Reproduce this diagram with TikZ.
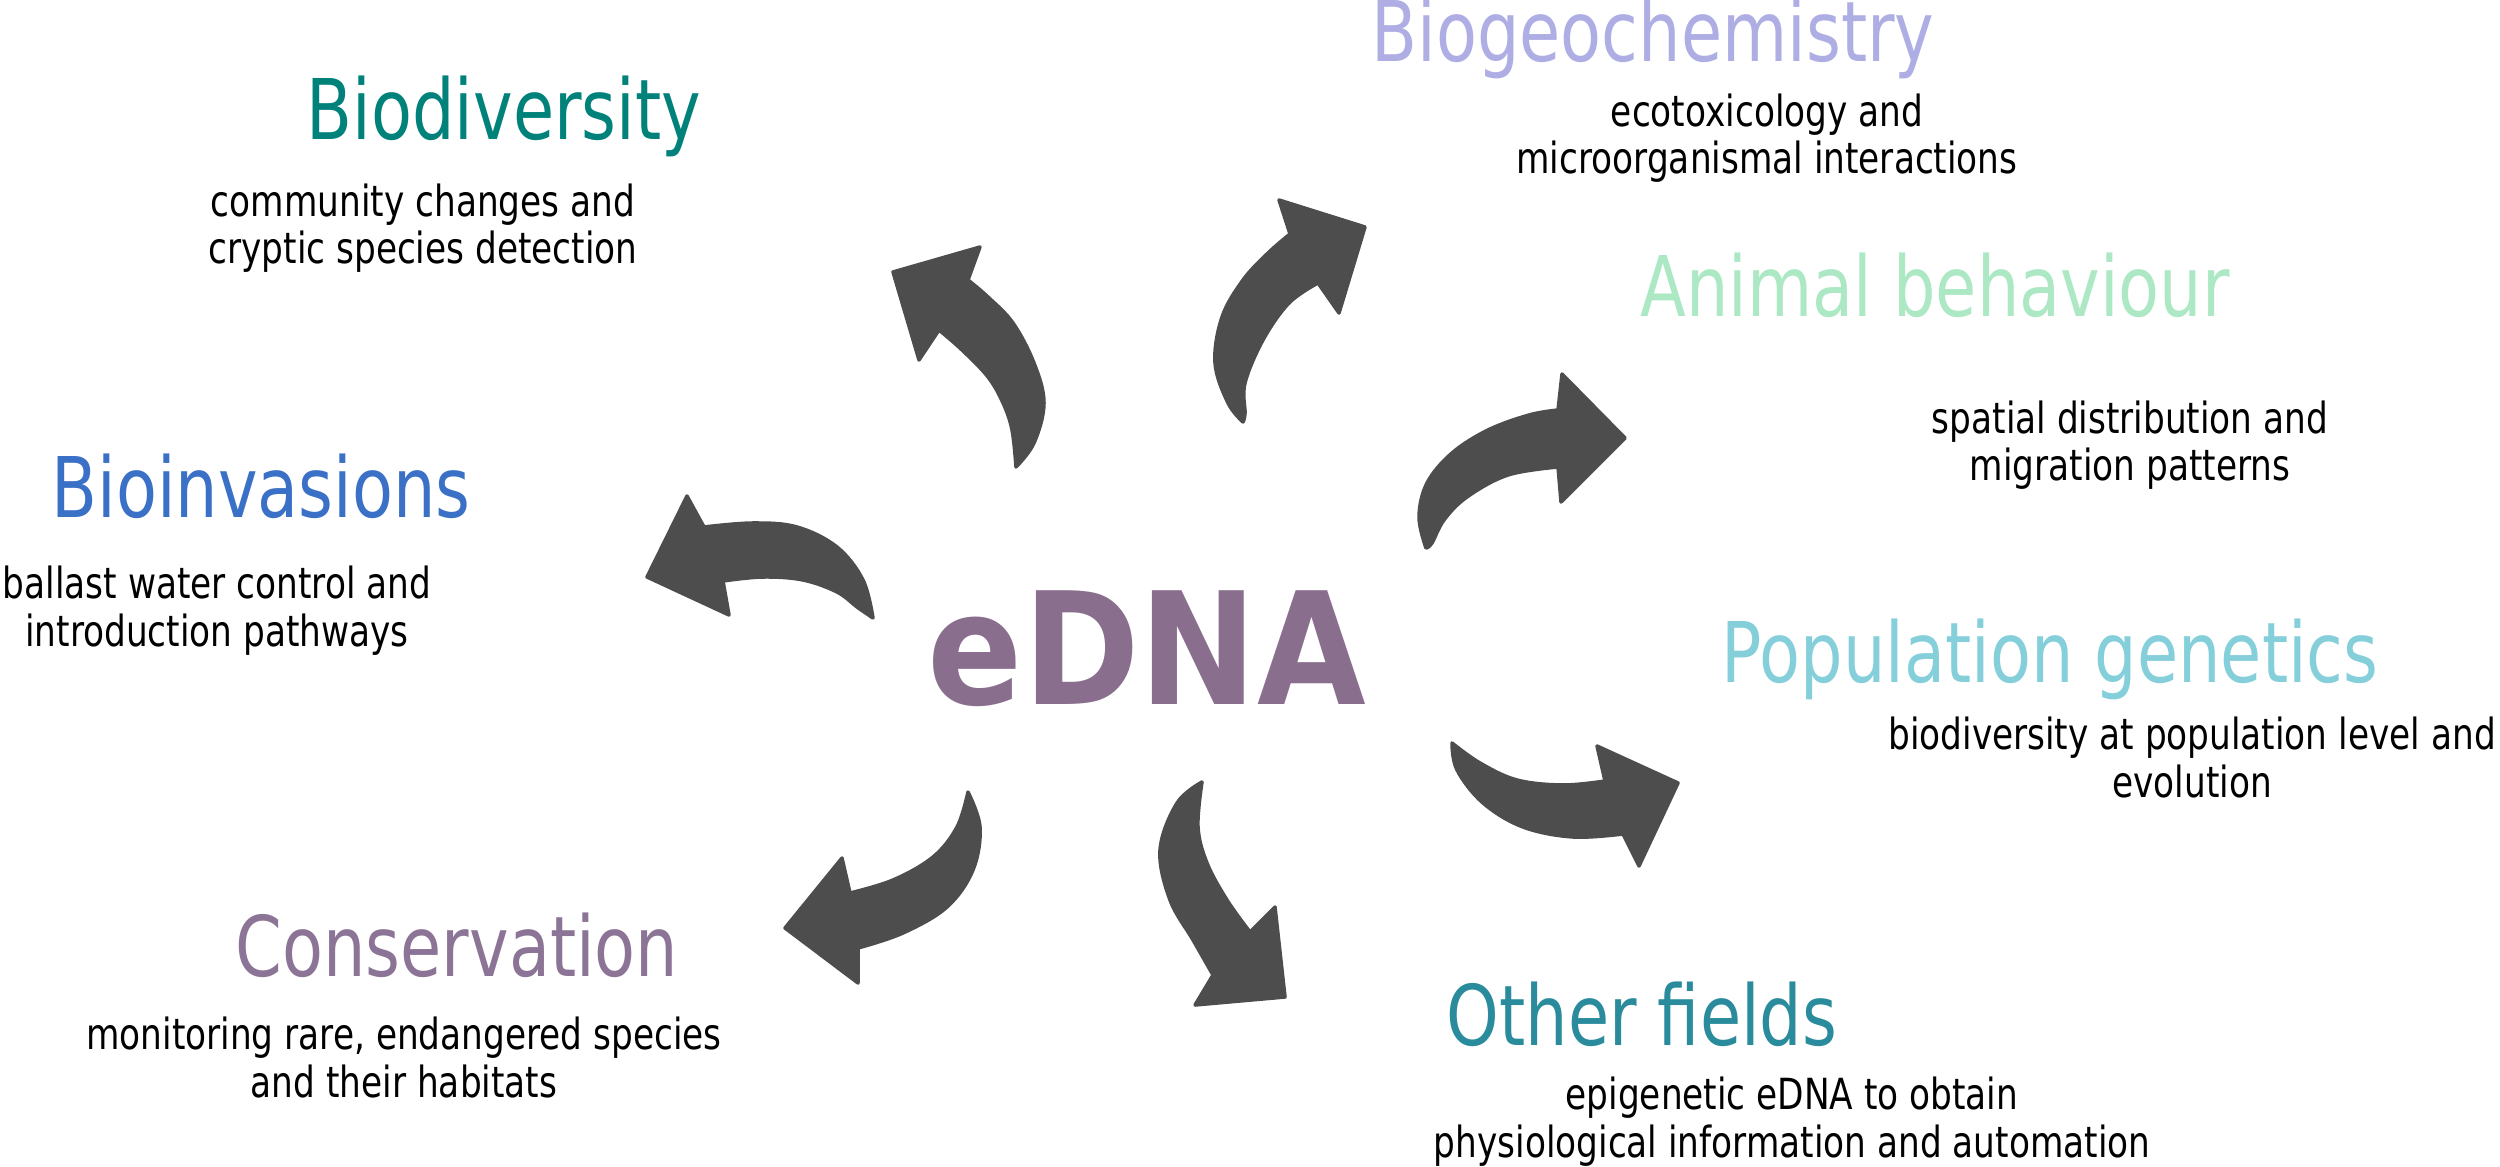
\documentclass[tikz,border=0pt]{standalone}
\usepackage{fontspec}
\setmainfont[FakeStretch=0.8]{DejaVu Sans}
\newfontfamily\ednafont[FakeStretch=0.9]{DejaVu Sans}

\definecolor{biodiv}{HTML}{00827A}
\definecolor{bioinv}{HTML}{3A70C6}
\definecolor{biogeo}{HTML}{AEAEE4}
\definecolor{animal}{HTML}{ABE8C3}
\definecolor{popgen}{HTML}{85CFDB}
\definecolor{other}{HTML}{2A8B9C}
\definecolor{conserv}{HTML}{8C7496}
\definecolor{edna}{HTML}{8A6E8E}
\definecolor{arrowgray}{HTML}{4D4D4D}

\begin{document}
\begin{tikzpicture}[x=0.01cm, y=-0.01cm,
   title/.style={font=\fontsize{23.8}{28}\selectfont, anchor=base, inner sep=0pt},
   sub/.style={font=\fontsize{12.2}{13.5}\selectfont, align=center, anchor=base, inner sep=0pt},
   curvy/.style={fill=arrowgray, draw=arrowgray, line width=1pt, line join=round}]
   \useasboundingbox (0,0) rectangle (2500,1167);

   \node[font=\ednafont\bfseries\fontsize{44.4}{50}\selectfont, text=edna, anchor=base, inner sep=0pt] (edna) at (1147,704) {eDNA};

   \node[title, text=biodiv] (biodiv) at (504,140) {Biodiversity};
   \node[sub] (biodivsub) at (423,264) {community changes and\\cryptic species detection};

   \node[title, text=biogeo] (biogeo) at (1653,62) {Biogeochemistry};
   \node[sub] (biogeosub) at (1767,174) {ecotoxicology and\\microorganismal interactions};

   \node[title, text=animal] (animal) at (1935,317) {Animal behaviour};
   \node[sub] (animalsub) at (2130,481) {spatial distribution and\\migration patterns};

   \node[title, text=bioinv] (bioinv) at (261,518) {Bioinvasions};
   \node[sub] (bioinvsub) at (217,646) {ballast water control and\\introduction pathways};

   \node[title, text=popgen] (popgen) at (2050,682) {Population genetics};
   \node[sub] (popgensub) at (2192,797) {biodiversity at population level and\\evolution};

   \node[title, text=conserv] (conserv) at (457,976) {Conservation};
   \node[sub] (conservsub) at (404,1097) {monitoring rare, endangered species\\and their habitats};

   \node[title, text=other] (other) at (1642,1045) {Other fields};
   \node[sub] (othersub) at (1792,1157) {epigenetic eDNA to obtain\\physiological information and automation};

   \fill[curvy] plot[smooth,tension=.6] coordinates {(1016,467) (1034,443) (1044,403) (1034,363) (1013,323) (988,297) (968,280)}
      -- (980,247) -- (893,272) -- (919,360) -- (939,330)
      -- plot[smooth,tension=.6] coordinates {(939,330) (962,350) (988,377) (1003,403) (1012,430) (1016,467)} -- cycle;

   \fill[curvy] plot[smooth,tension=.6] coordinates {(1243,422) (1228,403) (1215,363) (1222,317) (1243,280) (1268,253) (1290,234)}
      -- (1279,200) -- (1365,227) -- (1339,313) -- (1318,283)
      -- plot[smooth,tension=.6] coordinates {(1318,283) (1289,303) (1263,340) (1245,383) (1245,413) (1243,422)} -- cycle;

   \fill[curvy] plot[smooth,tension=.6] coordinates {(1426,548) (1419,517) (1427,483) (1452,453) (1488,430) (1529,415) (1558,410)}
      -- (1562,374) -- (1625,438) -- (1561,502) -- (1558,467)
      -- plot[smooth,tension=.6] coordinates {(1558,467) (1508,475) (1467,497) (1444,520) (1432,543) (1426,548)} -- cycle;

   \fill[curvy] plot[smooth,tension=.6] coordinates {(873,618) (863,580) (837,547) (797,527) (753,523) (704,527)}
      -- (687,496) -- (647,577) -- (729,615) -- (723,581)
      -- plot[smooth,tension=.6] coordinates {(723,581) (763,577) (803,580) (837,592) (857,607) (873,618)} -- cycle;

   \fill[curvy] plot[smooth,tension=.6] coordinates {(1452,743) (1480,763) (1517,780) (1563,785) (1605,781)}
      -- (1597,746) -- (1678,783) -- (1639,866) -- (1623,834)
      -- plot[smooth,tension=.6] coordinates {(1623,834) (1573,837) (1523,827) (1483,803) (1457,770) (1452,743)} -- cycle;

   \fill[curvy] plot[smooth,tension=.6] coordinates {(968,792) (980,827) (973,870) (947,907) (903,933) (858,948)}
      -- (858,983) -- (785,928) -- (842,858) -- (850,893)
      -- plot[smooth,tension=.6] coordinates {(850,893) (893,880) (933,857) (957,827) (968,792)} -- cycle;

   \fill[curvy] plot[smooth,tension=.6] coordinates {(1202,782) (1177,803) (1160,850) (1170,900) (1193,940) (1213,975)}
      -- (1195,1005) -- (1285,997) -- (1275,907) -- (1250,932)
      -- plot[smooth,tension=.6] coordinates {(1250,932) (1227,900) (1207,863) (1198,827) (1202,782)} -- cycle;

\end{tikzpicture}
\end{document}
